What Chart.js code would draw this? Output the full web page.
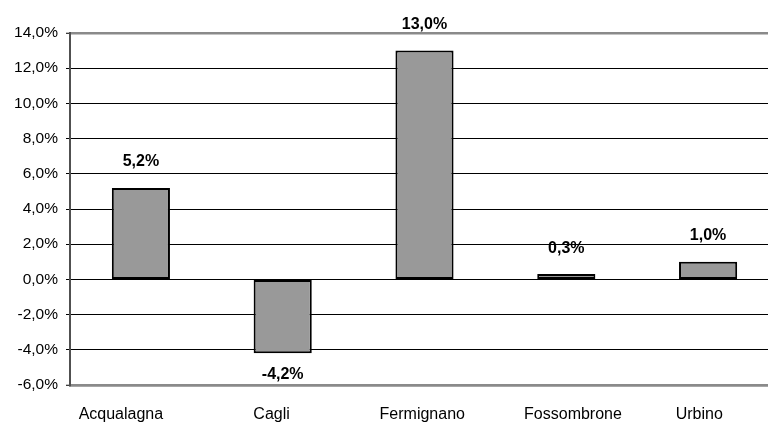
<!DOCTYPE html>
<html>
<head>
<meta charset="utf-8">
<script src="https://cdn.jsdelivr.net/npm/chart.js@4/dist/chart.umd.min.js"></script>
<style>
  html, body { margin: 0; padding: 0; background: #fff; overflow: hidden; }
  #wrap { width: 768px; height: 425px; overflow: hidden; }
  canvas { display: block; }
</style>
</head>
<body>
<div id="wrap"><canvas id="c" width="779" height="425"></canvas></div>
<script>
// Variazione percentuale per comune
const categories = ['Acqualagna', 'Cagli', 'Fermignano', 'Fossombrone', 'Urbino'];
const variation = [5.2, -4.2, 13.0, 0.3, 1.0];
const yMin = -6;
const yMax = 14;
const yStep = 2;

const fmt = v => v.toFixed(1).replace('.', ',') + '%';
const FONT = '"Liberation Sans", Arial, sans-serif';

// Small horizontal nudges of the category names (in spaces; negative = left)
const labelNudge = [-9, -5, -1, 3, -4];
const nudge = (text, n) => n < 0 ? text + ' '.repeat(-n) : ' '.repeat(n) + text;

// Bold value labels above positive bars and below negative ones
const valueLabels = {
  id: 'valueLabels',
  afterDatasetsDraw(chart) {
    const ctx = chart.ctx;
    const meta = chart.getDatasetMeta(0);
    ctx.save();
    ctx.font = 'bold 16px ' + FONT;
    ctx.fillStyle = '#000';
    ctx.textAlign = 'center';
    ctx.textBaseline = 'middle';
    meta.data.forEach((bar, i) => {
      const v = variation[i];
      const y = v >= 0 ? bar.y - 26 : bar.y + 21;
      ctx.fillText(fmt(v), bar.x, y);
    });
    ctx.restore();
  }
};

const isEdge = c => c.tick && (c.tick.value === yMax || c.tick.value === yMin);

new Chart(document.getElementById('c'), {
  type: 'bar',
  data: {
    labels: categories,
    datasets: [{
      data: variation,
      backgroundColor: '#999999',
      borderColor: '#000000',
      borderWidth: 2,
      borderSkipped: false,
      categoryPercentage: 1.0,
      barPercentage: 0.41
    }]
  },
  options: {
    responsive: false,
    animation: false,
    layout: { padding: { top: 33, right: 0, left: 0, bottom: 0 } },
    plugins: { legend: { display: false }, tooltip: { enabled: false } },
    scales: {
      x: {
        grid: { display: false },
        border: { display: true, color: '#8a8a8a', width: 2.5 },
        ticks: {
          color: '#000',
          font: { family: FONT, size: 16 },
          padding: 12,
          maxRotation: 0,
          autoSkip: false,
          callback: (v, i) => nudge(categories[i], labelNudge[i])
        },
        afterFit(scale) { scale.height = 40; }
      },
      y: {
        min: yMin,
        max: yMax,
        ticks: {
          stepSize: yStep,
          color: '#000',
          font: { family: FONT, size: 15.5 },
          padding: 8,
          callback: v => fmt(v)
        },
        grid: {
          color: c => isEdge(c) ? '#8a8a8a' : '#000000',
          lineWidth: c => isEdge(c) ? 2.5 : 1,
          tickColor: '#000000',
          tickLength: 4,
          tickWidth: 1
        },
        border: { display: true, color: '#505050', width: 2 },
        afterFit(scale) { scale.width = 70; }
      }
    }
  },
  plugins: [valueLabels]
});
</script>
</body>
</html>
